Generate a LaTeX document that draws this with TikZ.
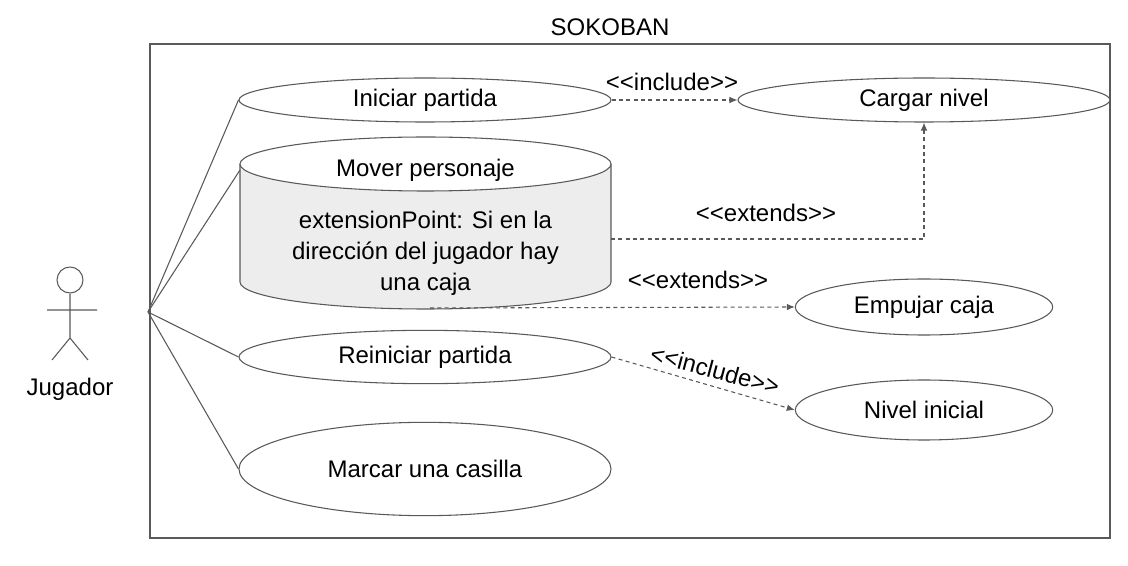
\documentclass[tikz,border=0pt]{standalone}
\usepackage{fontspec}
\setmainfont{Liberation Sans}
\usetikzlibrary{arrows.meta,shapes.geometric}
\newcommand{\myfs}{\fontsize{18}{22}\selectfont}
\begin{document}
\begin{tikzpicture}[x=0.75pt,y=-0.75pt,
  ln/.style={draw=black!65,line width=0.8pt},
  uc/.style={ellipse,ln,fill=white,inner sep=0pt,font=\myfs},
  dep/.style={ln,dash pattern=on 3pt off 2.5pt,-{Latex[length=6pt,width=5pt]}},
  lbl/.style={font=\myfs,inner sep=1pt}]
\useasboundingbox (0,0) rectangle (1128,566);
\node[font=\myfs] (title) at (610,27) {SOKOBAN};
\node[ln,draw,minimum width=720pt,minimum height=370.5pt,inner sep=0pt] (sys) at (630,291) {};
% actor
\node[circle,ln,minimum size=19.5pt,inner sep=0pt] (head) at (70,280) {};
\coordinate (hip) at (70,338);
\draw[ln] (head.south) -- (hip) -- (52,360) (hip) -- (88,360) (47,310) -- (97,310);
\node[font=\myfs] (jug) at (70,389) {Jugador};
\coordinate (act) at (148,312);
% use cases
\node[uc,minimum width=279pt,minimum height=33pt] (ini) at (425,100) {Iniciar partida};
\node[uc,minimum width=279pt,minimum height=33pt] (car) at (924,100) {Cargar nivel};
\node[uc,minimum width=193pt,minimum height=42pt] (emp) at (924,307) {Empujar caja};
\node[uc,minimum width=279pt,minimum height=40pt] (rei) at (425,357) {Reiniciar partida};
\node[uc,minimum width=193pt,minimum height=45pt] (niv) at (924,410) {Nivel inicial};
\node[uc,minimum width=279pt,minimum height=70pt] (mar) at (425,469) {Marcar una casilla};
% cylinder
\draw[ln,fill=black!7] (240,164) -- (240,282) arc[start angle=180,end angle=0,x radius=185.5,y radius=27] -- (611,164);
\draw[ln,fill=white] (425.5,164) ellipse[x radius=185.5,y radius=27];
\node[lbl] (mov) at (425.5,170) {Mover personaje};
\node[lbl,align=center,font=\fontsize{18}{23.3}\selectfont] (ext) at (425.5,253) {extensionPoint: Si en la\\dirección del jugador hay\\una caja};
\coordinate (movL) at (240,170);
\coordinate (movR) at (611,239);
\coordinate (movB) at (430,308);
% actor links
\draw[ln] (act) -- (ini.west);
\draw[ln] (act) -- (movL);
\draw[ln] (act) -- (rei.west);
\draw[ln] (act) -- (mar.west);
% dependencies
\draw[dep] (ini.east) -- (car.west);
\node[lbl] (l1) at (672,82) {<{}<include>{}>};
\draw[dep] (movR) -| (car.south);
\node[lbl] (l2) at (766,213) {<{}<extends>{}>};
\draw[dep] (movB) -- (emp.west);
\node[lbl] (l3) at (698,280) {<{}<extends>{}>};
\draw[dep] (rei.east) -- (niv.west);
\node[lbl,rotate=-15] (l4) at (715,370) {<{}<include>{}>};
\end{tikzpicture}
\end{document}
